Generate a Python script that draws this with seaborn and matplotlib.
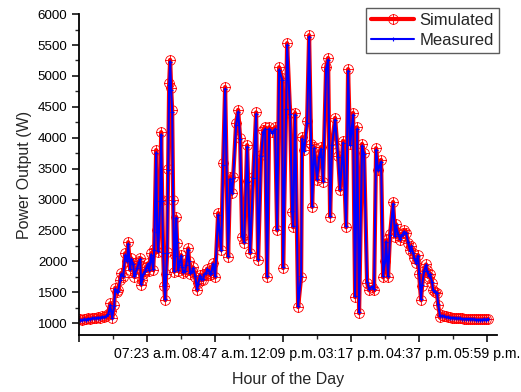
"""Simulated vs measured PV power output over one day"""

import matplotlib
matplotlib.use('Agg')
import matplotlib.pyplot as plt
from matplotlib.path import Path
from matplotlib.ticker import MultipleLocator
import seaborn as sns

# sample counter (one tick label every 68 samples)
sample = [1, 3, 5, 7, 9, 11, 13, 15, 17, 19,
          21, 23, 25, 27, 29, 31, 32, 33, 35, 36,
          38, 39, 41, 42, 44, 46, 48, 49, 51, 52,
          54, 55, 56, 58, 60, 61, 62, 63, 64, 66,
          67, 69, 70, 72, 74, 75, 77, 78, 79, 81,
          82, 83, 84, 85, 86, 87, 88, 89, 90, 91,
          92, 93, 94, 95, 96, 97, 98, 99, 100, 102,
          103, 104, 106, 107, 109, 110, 111, 113, 114, 116,
          118, 119, 121, 122, 124, 125, 127, 128, 130, 131,
          132, 134, 136, 139, 142, 144, 146, 149, 151, 153,
          154, 157, 159, 161, 163, 165, 168, 169, 171, 174,
          177, 179, 182, 184, 186, 188, 190, 193, 196, 198,
          200, 203, 204, 207, 208, 211, 213, 214, 216, 219,
          222, 223, 225, 228, 230, 232, 233, 235, 238, 240,
          242, 244, 247, 249, 251, 253, 256, 259, 261, 264,
          267, 269, 271, 274, 276, 278, 280, 283, 285, 288,
          290, 293, 295, 297, 299, 302, 304, 306, 307, 309,
          311, 314, 316, 317, 319, 321, 322, 324, 325, 327,
          329, 331, 332, 334, 335, 337, 339, 340, 342, 343,
          345, 347, 348, 350, 351, 353, 354, 356, 358, 359,
          361, 363, 365, 367, 369, 371, 373, 375, 377, 379,
          381, 383, 385, 387, 389, 391, 393, 395, 397, 399,
          401, 403, 405, 407, 409]

simulated = [1060, 1050, 1070, 1060, 1080, 1070, 1080, 1090, 1080, 1100,
             1090, 1110, 1100, 1120, 1150, 1320, 1200, 1080, 1300, 1570,
             1500, 1530, 1700, 1810, 1750, 2130, 2000, 2310, 1860, 2050,
             1970, 1750, 1810, 1900, 2000, 2050, 1620, 1700, 1800, 1850,
             1900, 1970, 1850, 2130, 1860, 2200, 3800, 2500, 2150, 3000,
             4090, 3000, 2150, 1600, 1370, 1800, 2150, 3500, 4880, 5260,
             4800, 4450, 3000, 1830, 2100, 2720, 2300, 1850, 1950, 2100,
             1900, 1810, 1840, 1950, 2210, 2000, 1800, 1850, 1900, 1750,
             1530, 1650, 1780, 1700, 1700, 1800, 1800, 1880, 1850, 1780,
             1800, 1970, 1740, 2780, 2180, 3590, 4820, 2070, 3360, 3100,
             3360, 4240, 4450, 4000, 2390, 2300, 3880, 3300, 2130, 3360,
             4410, 2020, 3720, 4120, 4170, 1740, 4170, 4100, 4170, 2500,
             5140, 4970, 1890, 4500, 5530, 4400, 2800, 2550, 4400, 1260,
             1740, 4010, 3800, 4270, 5660, 3900, 2880, 3850, 3320, 3700,
             3850, 3290, 5140, 5290, 2720, 3900, 4320, 3700, 3150, 3950,
             2550, 5110, 3900, 4400, 1420, 4170, 1160, 3900, 3750, 1650,
             1530, 1580, 1530, 3830, 3480, 3640, 1740, 2000, 2340, 1740,
             2440, 2960, 2400, 2600, 2460, 2350, 2400, 2450, 2500, 2460,
             2300, 2180, 2250, 2130, 2050, 1970, 2100, 1800, 1370, 1600,
             1850, 1950, 1860, 1750, 1800, 1650, 1530, 1500, 1480, 1300,
             1100, 1130, 1120, 1110, 1100, 1100, 1090, 1090, 1080, 1080,
             1080, 1075, 1070, 1070, 1070, 1070, 1065, 1065, 1060, 1060,
             1060, 1060, 1065, 1060, 1070]

measured = [1050, 1045, 1060, 1055, 1070, 1065, 1075, 1080, 1075, 1090,
            1085, 1100, 1095, 1110, 1140, 1290, 1190, 1090, 1280, 1550,
            1510, 1520, 1690, 1790, 1760, 2100, 2010, 2280, 1870, 2030,
            1960, 1760, 1800, 1890, 1990, 2030, 1640, 1710, 1790, 1840,
            1890, 1960, 1860, 2110, 1870, 2180, 3760, 2480, 2160, 2970,
            4050, 2980, 2140, 1620, 1390, 1790, 2130, 3470, 4850, 5230,
            4770, 4420, 2980, 1850, 2090, 2700, 2310, 1860, 1940, 2090,
            1910, 1820, 1850, 1940, 2190, 2010, 1810, 1840, 1890, 1760,
            1550, 1640, 1770, 1710, 1710, 1790, 1810, 1870, 1840, 1790,
            1810, 1960, 1760, 2750, 2190, 3560, 4790, 2090, 3330, 3110,
            3340, 4210, 4420, 3980, 2410, 2320, 3850, 3290, 2150, 3340,
            4380, 2040, 3700, 4090, 4140, 1760, 4140, 4080, 4140, 2520,
            5100, 4940, 1910, 4470, 5500, 4380, 2820, 2570, 4370, 1280,
            1760, 3980, 3780, 4240, 5630, 3880, 2900, 3830, 3330, 3680,
            3820, 3300, 5110, 5260, 2740, 3880, 4290, 3690, 3170, 3920,
            2570, 5080, 3880, 4370, 1440, 4140, 1180, 3870, 3730, 1670,
            1550, 1590, 1550, 3800, 3470, 3610, 1760, 2010, 2320, 1760,
            2420, 2930, 2410, 2580, 2440, 2360, 2410, 2440, 2480, 2450,
            2310, 2170, 2240, 2140, 2060, 1980, 2090, 1810, 1390, 1610,
            1840, 1940, 1850, 1760, 1790, 1660, 1540, 1510, 1490, 1310,
            1110, 1120, 1110, 1100, 1095, 1090, 1085, 1085, 1075, 1075,
            1075, 1070, 1065, 1065, 1065, 1065, 1060, 1060, 1055, 1055,
            1055, 1055, 1060, 1055, 1065]

tick_pos = [0, 68, 136, 204, 272, 340, 408]
tick_labels = ['', '07:23 a.m.', '08:47 a.m.', '12:09 p.m.', '03:17 p.m.',
               '04:37 p.m.', '05:59 p.m.']

sns.set_style('ticks')
plt.rcParams['font.family'] = ['Liberation Sans', 'DejaVu Sans']

# circle with a cross inside, like Origin's symbol
oplus = Path.make_compound_path(
    Path.unit_circle(),
    Path([(-1, 0), (1, 0), (0, -1), (0, 1)],
         [Path.MOVETO, Path.LINETO, Path.MOVETO, Path.LINETO]))

fig = plt.figure(figsize=(5.21, 3.92), dpi=100)
ax = fig.add_axes([0.152, 0.145, 0.802, 0.819])

sns.lineplot(x=sample, y=simulated, ax=ax, color='#ff0000', lw=3.0,
             marker=oplus, markersize=7, markerfacecolor='none',
             markeredgecolor='#ff0000', markeredgewidth=0.6,
             label='Simulated')
sns.lineplot(x=sample, y=measured, ax=ax, color='#0000ff', lw=1.5,
             marker='+', markersize=2.5, markeredgecolor='#0000ff',
             markeredgewidth=0.8, label='Measured')

ax.set_xlim(0, 418)
ax.set_ylim(805, 6000)
ax.set_xticks(tick_pos)
ax.set_xticklabels(tick_labels)
ax.xaxis.set_minor_locator(MultipleLocator(34))
ax.yaxis.set_major_locator(MultipleLocator(500))
ax.yaxis.set_minor_locator(MultipleLocator(250))
ax.tick_params(which='major', length=5, width=1.1, colors='black')
ax.tick_params(axis='x', labelsize=10.2)
ax.tick_params(axis='y', labelsize=9.6)
ax.tick_params(which='minor', length=3, width=1.0)
for side in ['top', 'right']:
    ax.spines[side].set_visible(False)
for side in ['left', 'bottom']:
    ax.spines[side].set_linewidth(1.3)
    ax.spines[side].set_color('black')

ax.set_xlabel('Hour of the Day', fontsize=11.5, labelpad=8)
ax.set_ylabel('Power Output (W)', fontsize=11.5, labelpad=4)

leg = ax.legend(loc='upper right', bbox_to_anchor=(1.004, 1.018),
                fontsize=12, frameon=True, fancybox=False, edgecolor='#333333',
                borderaxespad=0, handlelength=2.6, borderpad=0.3,
                labelspacing=0.3, handletextpad=0.3)
leg.get_frame().set_linewidth(1.0)

fig.savefig('out.png', dpi=100)
